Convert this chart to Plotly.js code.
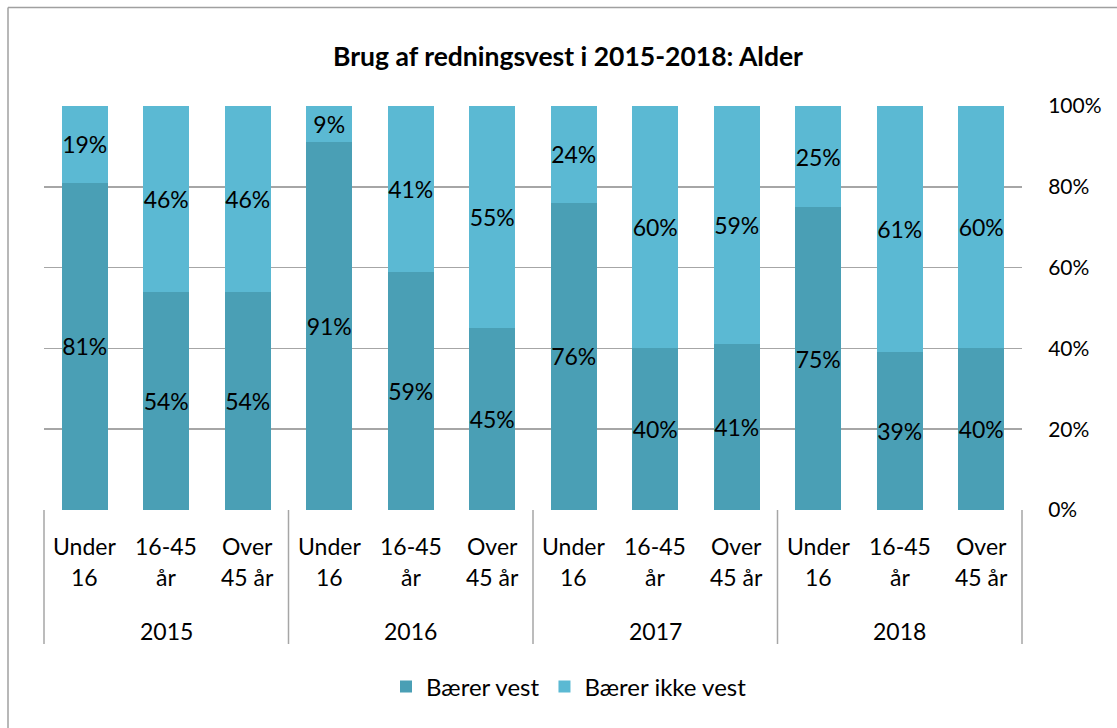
<!DOCTYPE html>
<html>
<head>
<meta charset="utf-8">
<script src="https://cdn.plot.ly/plotly-3.0.1.min.js"></script>
<style>
html,body{margin:0;padding:0;background:#fff;}
#chart{width:1117px;height:728px;}
</style>
</head>
<body>
<div id="chart"></div>
<script>
// ---- data ----
const years = ["2015", "2016", "2017", "2018"];
const ageTop = ["Under", "16-45", "Over"];
const ageBottom = ["16", "år", "45 år"];
const baererVest = [81, 54, 54, 91, 59, 45, 76, 40, 41, 75, 39, 40];
const baererIkkeVest = [19, 46, 46, 9, 41, 55, 24, 60, 59, 25, 61, 60];
const yTicks = [0, 20, 40, 60, 80, 100];
const seriesNames = ["Bærer vest", "Bærer ikke vest"];
const chartTitle = "Brug af redningsvest i 2015-2018: Alder";

// ---- layout helpers ----
const W = 1117, H = 728;
const L = 44, R = 1022, T = 106, B = 510;
const pxX = px => (px - L) / (R - L);
const pxY = py => (B - py) / (B - T);
const FONT = "Lato, 'Open Sans', sans-serif";
const GRID = "#A6A6A6";
const LBL = 23;

const idx = baererVest.map((_, i) => i);
const nPer = ageTop.length;

const common = {
  type: "bar",
  x: idx,
  width: 0.565,
  textposition: "inside",
  insidetextanchor: "middle",
  textangle: 0,
  constraintext: "none",
  textfont: {family: FONT, size: 23, color: "#000"},
  insidetextfont: {family: FONT, size: 23, color: "#000"},
  hoverinfo: "skip"
};

const traces = [
  Object.assign({}, common, {name: seriesNames[0], y: baererVest, text: baererVest.map(v => v + "%"),
    marker: {color: "#4A9FB5"}}),
  Object.assign({}, common, {name: seriesNames[1], y: baererIkkeVest, text: baererIkkeVest.map(v => v + "%"),
    marker: {color: "#5BB9D3"}})
];

const annotations = [];
idx.forEach(i => {
  const a = i % nPer;
  annotations.push({x: i, xref: "x", y: 0, yref: "paper", yshift: -36, yanchor: "middle",
    text: ageTop[a], showarrow: false, font: {family: FONT, size: LBL, color: "#000"}});
  annotations.push({x: i, xref: "x", y: 0, yref: "paper", yshift: -67, yanchor: "middle",
    text: ageBottom[a], showarrow: false, font: {family: FONT, size: LBL, color: "#000"}});
});
years.forEach((yr, g) => {
  annotations.push({x: g * nPer + (nPer - 1) / 2, xref: "x", y: 0, yref: "paper", yshift: -121, yanchor: "middle",
    text: yr, showarrow: false, font: {family: FONT, size: LBL, color: "#000"}});
});

const shapes = [];
for (let g = 0; g <= years.length; g++) {
  const xp = g / years.length;
  shapes.push({type: "line", xref: "paper", yref: "paper", x0: xp, x1: xp, y0: 0, y1: pxY(644),
    line: {color: GRID, width: 1.5}});
}
// outer chart border (top & left visible)
shapes.push({type: "line", xref: "paper", yref: "paper", x0: pxX(8), x1: pxX(W + 20), y0: pxY(7.5), y1: pxY(7.5),
  line: {color: "#A0A0A0", width: 1.5}});
shapes.push({type: "line", xref: "paper", yref: "paper", x0: pxX(8), x1: pxX(8), y0: pxY(7.5), y1: pxY(H + 20),
  line: {color: "#A0A0A0", width: 1.5}});

const layout = {
  width: W, height: H,
  margin: {l: L, r: W - R, t: T, b: H - B, pad: 0},
  paper_bgcolor: "#fff", plot_bgcolor: "#fff",
  barmode: "stack",
  showlegend: true,
  title: {text: "<b>" + chartTitle + "</b>", font: {family: FONT, size: 26.5, color: "#000"},
    xref: "container", x: 568 / W, xanchor: "center", yref: "container", y: 1 - 57 / H, yanchor: "middle"},
  xaxis: {range: [-0.5, idx.length - 0.5], showticklabels: false, showgrid: false, zeroline: false,
    showline: false, ticks: "", fixedrange: true},
  yaxis: {range: [0, 100], side: "right", tickvals: yTicks, ticktext: yTicks.map(v => v + "%"),
    showgrid: true, gridcolor: GRID, gridwidth: 1.5, zeroline: false, showline: false,
    ticks: "outside", ticklen: 21, tickcolor: "rgba(0,0,0,0)",
    tickfont: {family: FONT, size: 21, color: "#000"}, fixedrange: true},
  legend: {orientation: "h", x: pxX(569), xanchor: "center", y: pxY(687), yanchor: "middle",
    font: {family: FONT, size: 24, color: "#000"}, traceorder: "normal", itemclick: false},
  annotations: annotations,
  shapes: shapes
};

Plotly.newPlot("chart", traces, layout, {displayModeBar: false, staticPlot: true});
</script>
</body>
</html>
